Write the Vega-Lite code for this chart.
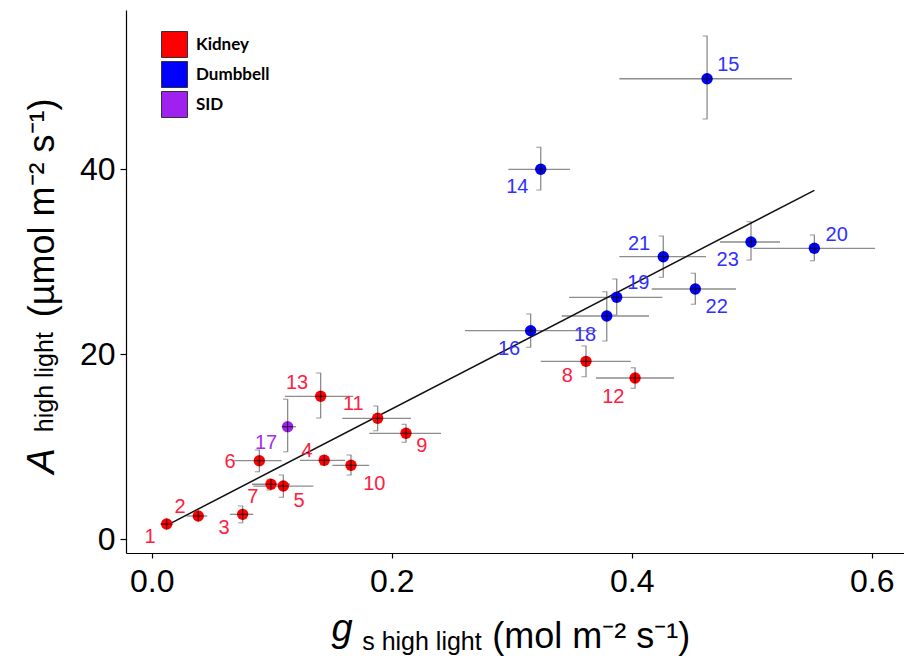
{
  "$schema": "https://vega.github.io/schema/vega-lite/v6.json",
  "width": 778,
  "height": 543,
  "autosize": {"type": "none"},
  "padding": {"left": 126, "top": 10, "right": 0, "bottom": 112},
  "background": "white",
  "config": {"view": {"stroke": null}, "axis": {"grid": false}},
  "data": {"values": [
    {"id": "1", "type": "Kidney", "x": 0.0125, "y": 1.65, "xlo": 0.007, "xhi": 0.018, "ylo": 1.33, "yhi": 1.98, "lx": -0.0014, "ly": 0.28},
    {"id": "2", "type": "Kidney", "x": 0.0388, "y": 2.52, "xlo": 0.0292, "xhi": 0.0463, "ylo": 2.19, "yhi": 2.84, "lx": 0.0236, "ly": 3.52},
    {"id": "3", "type": "Kidney", "x": 0.0758, "y": 2.70, "xlo": 0.0653, "xhi": 0.0847, "ylo": 1.79, "yhi": 3.6, "lx": 0.0603, "ly": 1.19},
    {"id": "4", "type": "Kidney", "x": 0.1438, "y": 8.54, "xlo": 0.1236, "xhi": 0.1611, "ylo": 8.03, "yhi": 9.0, "lx": 0.1294, "ly": 9.58},
    {"id": "5", "type": "Kidney", "x": 0.1097, "y": 5.76, "xlo": 0.0847, "xhi": 0.1347, "ylo": 4.54, "yhi": 6.95, "lx": 0.1228, "ly": 4.14},
    {"id": "6", "type": "Kidney", "x": 0.0897, "y": 8.50, "xlo": 0.0688, "xhi": 0.1083, "ylo": 7.31, "yhi": 9.65, "lx": 0.0653, "ly": 8.36},
    {"id": "7", "type": "Kidney", "x": 0.0994, "y": 5.95, "xlo": 0.0836, "xhi": 0.1153, "ylo": 5.33, "yhi": 6.49, "lx": 0.0842, "ly": 4.54},
    {"id": "8", "type": "Kidney", "x": 0.3619, "y": 19.24, "xlo": 0.3242, "xhi": 0.3992, "ylo": 17.58, "yhi": 20.9, "lx": 0.3463, "ly": 17.65},
    {"id": "9", "type": "Kidney", "x": 0.2119, "y": 11.46, "xlo": 0.1813, "xhi": 0.2411, "ylo": 10.49, "yhi": 12.43, "lx": 0.225, "ly": 10.12},
    {"id": "10", "type": "Kidney", "x": 0.1661, "y": 8.0, "xlo": 0.1505, "xhi": 0.1813, "ylo": 6.95, "yhi": 9.11, "lx": 0.1855, "ly": 5.98},
    {"id": "11", "type": "Kidney", "x": 0.1883, "y": 13.08, "xlo": 0.1588, "xhi": 0.2161, "ylo": 11.74, "yhi": 14.41, "lx": 0.168, "ly": 14.63},
    {"id": "12", "type": "Kidney", "x": 0.4028, "y": 17.44, "xlo": 0.3703, "xhi": 0.4353, "ylo": 16.32, "yhi": 18.55, "lx": 0.3847, "ly": 15.42},
    {"id": "13", "type": "Kidney", "x": 0.1408, "y": 15.46, "xlo": 0.1111, "xhi": 0.168, "ylo": 13.11, "yhi": 17.98, "lx": 0.1211, "ly": 16.9},
    {"id": "14", "type": "Dumbbell", "x": 0.3242, "y": 40.0, "xlo": 0.2972, "xhi": 0.3486, "ylo": 37.76, "yhi": 42.38, "lx": 0.3047, "ly": 38.05},
    {"id": "15", "type": "Dumbbell", "x": 0.4628, "y": 49.79, "xlo": 0.3897, "xhi": 0.5336, "ylo": 45.44, "yhi": 54.41, "lx": 0.4805, "ly": 51.28},
    {"id": "16", "type": "Dumbbell", "x": 0.3158, "y": 22.55, "xlo": 0.2611, "xhi": 0.3708, "ylo": 20.76, "yhi": 24.36, "lx": 0.2978, "ly": 20.54},
    {"id": "17", "type": "SID", "x": 0.1133, "y": 12.17, "xlo": 0.1083, "xhi": 0.1203, "ylo": 9.47, "yhi": 15.14, "lx": 0.0953, "ly": 10.38},
    {"id": "18", "type": "Dumbbell", "x": 0.3792, "y": 24.14, "xlo": 0.3417, "xhi": 0.4144, "ylo": 21.44, "yhi": 26.77, "lx": 0.3611, "ly": 22.09},
    {"id": "19", "type": "Dumbbell", "x": 0.3875, "y": 26.16, "xlo": 0.3478, "xhi": 0.4255, "ylo": 24.25, "yhi": 28.14, "lx": 0.4055, "ly": 27.68},
    {"id": "20", "type": "Dumbbell", "x": 0.5522, "y": 31.46, "xlo": 0.5013, "xhi": 0.6028, "ylo": 30.12, "yhi": 32.9, "lx": 0.5708, "ly": 32.9},
    {"id": "21", "type": "Dumbbell", "x": 0.4263, "y": 30.55, "xlo": 0.3897, "xhi": 0.4619, "ylo": 28.32, "yhi": 32.79, "lx": 0.4061, "ly": 31.92},
    {"id": "22", "type": "Dumbbell", "x": 0.453, "y": 27.06, "xlo": 0.4167, "xhi": 0.4869, "ylo": 25.41, "yhi": 28.76, "lx": 0.4708, "ly": 25.08},
    {"id": "23", "type": "Dumbbell", "x": 0.4994, "y": 32.14, "xlo": 0.4736, "xhi": 0.5236, "ylo": 30.19, "yhi": 34.34, "lx": 0.48, "ly": 30.19}
  ]},
  "resolve": {"axis": {"x": "independent", "y": "independent"}, "scale": {"color": "independent"}},
  "layer": [
    {
      "mark": {"type": "rule", "color": "#8c8c8c", "strokeWidth": 1.3},
      "encoding": {
        "x": {"field": "xlo", "type": "quantitative", "scale": {"domain": [-0.0214, 0.6269], "nice": false, "zero": false},
          "axis": {"orient": "bottom", "title": "g", "domain": false, "ticks": false, "labels": false, "grid": false,
            "titleFont": "Liberation Sans", "titleFontSize": 38, "titleFontStyle": "italic", "titleFontWeight": "normal", "titleColor": "black",
            "titleAlign": "left", "titleBaseline": "alphabetic", "titleAngle": 0, "titleX": 205, "titleY": 87}},
        "x2": {"field": "xhi"},
        "y": {"field": "y", "type": "quantitative", "scale": {"domain": [-1.48, 57.22], "nice": false, "zero": false},
          "axis": {"orient": "left", "title": "A", "domain": false, "ticks": false, "labels": false, "grid": false,
            "titleFont": "Liberation Sans", "titleFontSize": 38, "titleFontStyle": "italic", "titleFontWeight": "normal", "titleColor": "black",
            "titleAlign": "left", "titleBaseline": "alphabetic", "titleAngle": 270, "titleX": -73, "titleY": 463}}
      }
    },
    {
      "mark": {"type": "rule", "color": "#8c8c8c", "strokeWidth": 1.3},
      "encoding": {
        "x": {"field": "x", "type": "quantitative", "scale": {"domain": [-0.0214, 0.6269], "nice": false, "zero": false},
          "axis": {"orient": "bottom", "title": "s high light", "domain": false, "ticks": false, "labels": false, "grid": false,
            "titleFont": "Liberation Sans", "titleFontSize": 25, "titleFontWeight": "normal", "titleColor": "black",
            "titleAlign": "left", "titleBaseline": "alphabetic", "titleAngle": 0, "titleX": 235.7, "titleY": 96}},
        "y": {"field": "ylo", "type": "quantitative", "scale": {"domain": [-1.48, 57.22], "nice": false, "zero": false},
          "axis": {"orient": "left", "title": "high light", "domain": false, "ticks": false, "labels": false, "grid": false,
            "titleFont": "Liberation Sans", "titleFontSize": 25, "titleFontWeight": "normal", "titleColor": "black",
            "titleAlign": "left", "titleBaseline": "alphabetic", "titleAngle": 270, "titleX": -74, "titleY": 421.7}},
        "y2": {"field": "yhi"}
      }
    },
    {
      "mark": {"type": "tick", "orient": "horizontal", "color": "#8c8c8c", "size": 5, "thickness": 1.3, "xOffset": -2},
      "encoding": {
        "x": {"field": "x", "type": "quantitative", "axis": null},
        "y": {"field": "yhi", "type": "quantitative", "axis": null}
      }
    },
    {
      "mark": {"type": "tick", "orient": "horizontal", "color": "#8c8c8c", "size": 5, "thickness": 1.3, "xOffset": -2},
      "encoding": {
        "x": {"field": "x", "type": "quantitative", "axis": null},
        "y": {"field": "ylo", "type": "quantitative", "axis": null}
      }
    },
    {
      "data": {"values": [{"rx": 0.0125, "ry": 1.51}, {"rx": 0.5522, "ry": 37.72}]},
      "mark": {"type": "line", "color": "#111111", "strokeWidth": 1.5},
      "encoding": {
        "x": {"field": "rx", "type": "quantitative", "axis": null},
        "y": {"field": "ry", "type": "quantitative", "axis": null}
      }
    },
    {
      "mark": {"type": "point", "filled": true, "opacity": 1, "size": 130},
      "encoding": {
        "x": {"field": "x", "type": "quantitative",
          "axis": {"orient": "bottom", "title": "(mol m⁻² s⁻¹)", "values": [0, 0.2, 0.4, 0.6], "format": ".1f",
            "domain": true, "domainColor": "black", "domainWidth": 1.2, "ticks": true, "tickColor": "black", "tickSize": 5, "tickWidth": 1.2,
            "labelFont": "Liberation Sans", "labelFontSize": 32, "labelColor": "black", "labelBaseline": "alphabetic", "labelPadding": 33,
            "labelFlush": false, "labelOverlap": false, "grid": false,
            "titleFont": "Liberation Sans", "titleFontSize": 36, "titleFontWeight": "normal", "titleColor": "black",
            "titleAlign": "left", "titleBaseline": "alphabetic", "titleAngle": 0, "titleX": 365.7, "titleY": 94}},
        "y": {"field": "y", "type": "quantitative",
          "axis": {"orient": "left", "title": "(µmol m⁻² s⁻¹)", "values": [0, 20, 40],
            "domain": true, "domainColor": "black", "domainWidth": 1.2, "ticks": true, "tickColor": "black", "tickSize": 6, "tickWidth": 1.2,
            "labelFont": "Liberation Sans", "labelFontSize": 32, "labelColor": "black", "labelBaseline": "middle", "labelPadding": 5,
            "labelFlush": false, "labelOverlap": false, "grid": false,
            "titleFont": "Liberation Sans", "titleFontSize": 36, "titleFontWeight": "normal", "titleColor": "black",
            "titleAlign": "left", "titleBaseline": "alphabetic", "titleAngle": 270, "titleX": -73, "titleY": 306.7}},
        "color": {"field": "type", "type": "nominal",
          "scale": {"domain": ["Kidney", "Dumbbell", "SID"], "range": ["#FF0000", "#0000FF", "#A020F0"]},
          "legend": {"orient": "none", "legendX": 35, "legendY": 21, "title": null, "padding": 0,
            "symbolType": "square", "symbolSize": 676, "symbolStrokeColor": "#333333", "symbolStrokeWidth": 1, "symbolOpacity": 1,
            "labelFont": "Lato", "labelFontWeight": "bold", "labelFontSize": 17, "labelColor": "black", "labelOffset": 8, "rowPadding": -1}}
      }
    },
    {
      "mark": {"type": "point", "shape": "M-1,0L1,0M0,-1L0,1", "filled": false, "color": "#000000", "strokeWidth": 1, "opacity": 0.85, "size": 110},
      "encoding": {
        "x": {"field": "x", "type": "quantitative", "axis": null},
        "y": {"field": "y", "type": "quantitative", "axis": null}
      }
    },
    {
      "mark": {"type": "text", "font": "Liberation Sans", "fontSize": 20, "align": "center", "baseline": "middle"},
      "encoding": {
        "x": {"field": "lx", "type": "quantitative", "axis": null},
        "y": {"field": "ly", "type": "quantitative", "axis": null},
        "text": {"field": "id"},
        "color": {"field": "type", "type": "nominal",
          "scale": {"domain": ["Kidney", "Dumbbell", "SID"], "range": ["#FF2040", "#3030FF", "#A030F0"]},
          "legend": null}
      }
    }
  ]
}
